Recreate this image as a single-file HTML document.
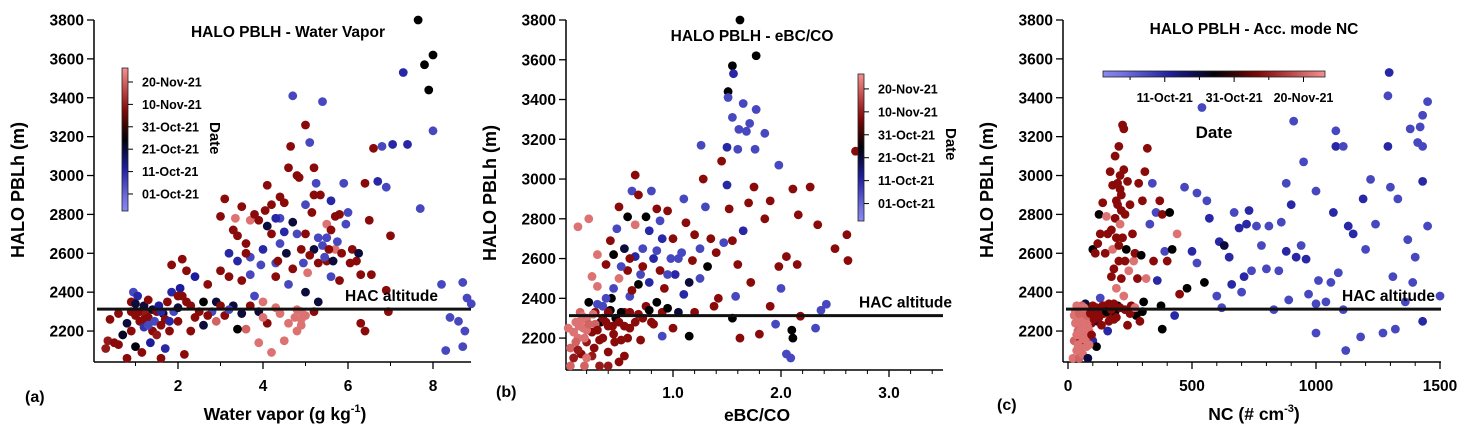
<!DOCTYPE html>
<html><head><meta charset="utf-8"><style>
html,body{margin:0;padding:0;background:#fff;}
svg{display:block;font-family:"Liberation Sans",Arial,sans-serif;font-weight:bold;}
</style></head><body>
<svg id="chart" width="1473" height="441" viewBox="0 0 1473 441" xmlns="http://www.w3.org/2000/svg">
<g id="gA"></g>
<g id="gB"></g>
<g id="gC"></g>
</svg>
<script>
// day offsets: 0 = 01-Oct-21
const yTicks=[2200,2400,2600,2800,3000,3200,3400,3600,3800];
const cbDays=[0,10,20,30,40,50];
const cbLabels=['01-Oct-21','11-Oct-21','21-Oct-21','31-Oct-21','10-Nov-21','20-Nov-21'];
const xTicksA=[2,4,6,8];
const xTicksB=[1.0,2.0,3.0];
const xTicksC=[0,500,1000,1500];
// [water vapor g/kg, PBLH m, day]
const ptsA=[[0.3,2110,40],[0.35,2150,40],[0.4,2260,38],[0.5,2140,38],[0.7,2180,22],[0.8,2060,38],[0.8,2240,20],[0.9,2200,38],[0.9,2350,38],[0.95,2400,5],[1.0,2120,24],[1.0,2280,38],[1.05,2380,10],[1.1,2300,38],[1.1,2250,38],[1.15,2090,38],[1.2,2330,20],[1.2,2220,8],[1.25,2290,40],[1.3,2270,38],[1.3,2360,38],[1.35,2140,12],[1.4,2310,20],[1.4,2200,38],[1.45,2250,5],[1.5,2300,38],[1.5,2180,40],[1.55,2330,12],[1.6,2060,38],[1.6,2230,38],[1.65,2290,20],[1.7,2260,38],[1.7,2110,10],[1.75,2350,38],[1.8,2200,38],[1.85,2400,10],[1.85,2540,38],[1.9,2300,5],[2.0,2320,20],[2.0,2250,38],[2.05,2420,12],[2.1,2570,38],[2.1,2380,38],[2.15,2080,38],[2.2,2350,38],[2.2,2510,38],[2.3,2330,38],[2.4,2480,12],[2.5,2300,38],[2.6,2230,20],[2.7,2440,38],[2.8,2300,5],[2.9,2350,20],[3.0,2510,38],[3.0,2790,38],[3.1,2880,38],[3.2,2600,10],[3.3,2330,20],[3.35,2780,52],[3.4,2690,38],[3.4,2560,10],[3.5,2840,38],[3.6,2210,50],[3.7,2580,5],[3.7,2770,52],[3.8,2800,38],[3.8,2380,5],[3.9,2140,52],[4.0,2620,10],[4.0,2350,52],[4.1,2740,20],[4.1,2950,38],[4.2,2850,38],[4.2,2090,52],[4.3,2550,5],[4.4,2890,38],[4.4,2650,5],[4.5,2710,10],[4.5,2150,52],[4.6,3040,38],[4.65,3150,38],[4.7,3410,5],[4.7,2760,20],[4.75,2270,52],[4.8,2310,52],[4.8,3000,38],[4.9,2260,52],[4.9,2620,38],[5.0,3260,38],[5.0,2850,5],[5.05,2500,52],[5.1,3170,5],[5.2,2620,20],[5.2,2900,38],[5.3,2550,38],[5.4,3380,5],[5.4,2640,5],[5.5,2750,52],[5.5,2560,38],[5.6,2870,10],[5.7,2620,52],[5.7,2790,38],[5.8,2800,38],[5.9,2960,5],[6.0,2810,5],[6.1,2620,38],[6.2,2560,38],[6.3,2240,38],[6.4,2960,38],[6.5,2770,38],[6.6,3140,38],[6.7,2970,10],[6.8,3150,5],[6.9,2940,5],[6.9,2410,38],[7.0,2690,38],[7.05,3160,10],[7.3,3530,10],[7.4,3160,10],[7.65,3800,25],[7.7,2830,5],[7.8,3570,25],[7.9,3440,25],[8.0,3620,25],[8.0,3230,5],[8.2,2440,5],[8.3,2100,5],[8.4,2270,5],[8.6,2250,5],[8.7,2120,5],[8.75,2200,5],[8.8,2370,5],[8.9,2340,5],[8.7,2450,5],[6.95,2300,38],[5.3,2350,20],[5.0,2400,20],[4.3,2480,38],[3.5,2460,38],[2.6,2350,25],[3.1,2280,38],[3.9,2300,20],[4.6,2240,52],[5.2,2300,38],[5.6,2480,5],[4.9,2300,52],[4.4,2780,5],[3.6,2650,38],[2.9,2250,50],[1.2,2260,38],[1.6,2300,10],[0.6,2290,38],[2.3,2200,38],[3.2,2480,38],[3.3,2720,38],[3.6,2600,38],[3.7,2490,5],[3.9,2770,38],[3.95,2540,5],[4.05,2820,38],[4.2,2700,38],[4.3,2780,10],[4.35,2560,38],[4.5,2860,38],[4.55,2600,20],[4.6,2440,5],[4.7,2520,38],[4.8,2700,5],[4.85,2990,38],[4.95,2550,5],[5.0,2700,38],[5.1,2590,38],[5.15,2810,38],[5.2,3040,38],[5.25,2960,5],[5.3,2680,5],[5.35,2900,38],[5.45,2580,5],[5.5,2680,5],[5.55,2620,38],[5.6,2720,38],[5.65,2560,20],[5.75,2660,5],[5.8,2460,38],[5.85,2600,38],[5.95,2750,5],[6.05,2550,38],[6.25,2600,20],[6.3,2490,38],[6.55,2490,38],[6.4,2200,38],[4.1,2240,38],[4.3,2320,52],[4.8,2200,52],[4.9,2230,52],[5.0,2280,52],[3.4,2210,25],[2.7,2280,38],[2.4,2270,38],[3.0,2330,38],[3.2,2310,5],[3.5,2290,20],[3.7,2330,38],[4.0,2270,52],[4.4,2290,52],[1.3,2230,5],[1.8,2250,10],[0.9,2300,38],[1.0,2340,20],[2.0,2380,38],[0.6,2130,38]];
// [eBC/CO, PBLH m, day]
const ptsB=[[0.03,2250,52],[0.05,2150,50],[0.05,2060,50],[0.08,2100,40],[0.1,2280,52],[0.12,2200,52],[0.12,2760,52],[0.14,2330,50],[0.15,2120,38],[0.17,2250,52],[0.18,2060,50],[0.2,2300,52],[0.2,2180,40],[0.22,2380,25],[0.22,2800,52],[0.25,2510,52],[0.25,2230,38],[0.27,2150,38],[0.28,2330,38],[0.3,2460,52],[0.3,2620,52],[0.32,2060,40],[0.33,2280,25],[0.35,2200,38],[0.35,2360,5],[0.38,2570,38],[0.4,2130,38],[0.4,2260,38],[0.42,2690,38],[0.43,2400,25],[0.45,2220,38],[0.45,2620,25],[0.47,2300,25],[0.48,2750,5],[0.5,2860,38],[0.5,2080,38],[0.5,2500,52],[0.52,2190,38],[0.55,2650,20],[0.55,2330,38],[0.58,2810,25],[0.58,2540,38],[0.6,2250,38],[0.6,2410,5],[0.62,2440,38],[0.62,2940,5],[0.65,2610,10],[0.65,2770,52],[0.65,3020,38],[0.68,2320,38],[0.68,2920,38],[0.7,2520,5],[0.7,2190,38],[0.72,2650,5],[0.75,2360,38],[0.75,2810,25],[0.78,2480,10],[0.8,2940,5],[0.8,2280,38],[0.82,2600,10],[0.85,2850,38],[0.85,2380,25],[0.88,2540,38],[0.9,2700,10],[0.9,2210,5],[0.92,2450,38],[0.95,2840,38],[0.98,2600,5],[1.0,2250,38],[1.0,2700,38],[1.02,2520,10],[1.05,2330,20],[1.08,2630,5],[1.1,2900,5],[1.12,2780,38],[1.15,2480,20],[1.15,2210,25],[1.18,2590,38],[1.2,2720,38],[1.2,2330,38],[1.25,2650,5],[1.28,3000,38],[1.3,2860,5],[1.32,2560,25],[1.35,2700,38],[1.38,2360,38],[1.4,2630,38],[1.42,2400,38],[1.45,3090,38],[1.47,2680,5],[1.5,2970,10],[1.52,2850,38],[1.55,2300,25],[1.55,2690,38],[1.58,2410,5],[1.6,2570,38],[1.62,2200,38],[1.65,2740,10],[1.7,2880,38],[1.72,2480,38],[1.75,2960,38],[1.8,2220,38],[1.85,2800,38],[1.9,2360,38],[1.9,2890,38],[1.95,2270,5],[1.98,2560,38],[2.0,2450,5],[2.05,2610,38],[2.1,2240,25],[1.62,3800,25],[1.77,3620,25],[1.55,3570,25],[1.56,3530,10],[1.51,3440,25],[1.51,3410,5],[1.65,3380,5],[1.77,3350,5],[1.55,3310,5],[1.71,3280,5],[1.61,3250,5],[1.68,3240,5],[1.85,3230,5],[1.26,3170,5],[1.5,3160,10],[1.6,3150,5],[1.76,3150,5],[2.69,3140,38],[1.98,3070,5],[2.27,2960,38],[2.11,2950,38],[2.16,2820,38],[2.34,2770,38],[2.61,2720,38],[2.5,2650,38],[2.62,2590,38],[2.15,2570,38],[2.42,2370,5],[2.37,2340,5],[2.32,2250,5],[2.09,2100,5],[2.05,2120,5],[2.11,2200,25],[2.18,2310,38],[0.15,2290,52],[0.2,2240,52],[0.28,2270,50],[0.35,2300,38],[0.42,2340,25],[0.5,2280,38],[0.58,2200,38],[0.1,2180,50],[0.25,2110,40],[0.08,2230,52],[0.13,2260,52],[0.16,2310,52],[0.18,2200,52],[0.22,2270,50],[0.26,2320,52],[0.3,2240,38],[0.32,2190,38],[0.38,2280,38],[0.4,2330,38],[0.44,2260,38],[0.46,2180,38],[0.52,2330,25],[0.55,2260,38],[0.6,2330,38],[0.65,2280,38],[0.72,2300,38],[0.78,2340,25],[0.82,2270,38],[0.9,2330,38],[0.95,2350,25],[0.45,2450,5],[0.52,2560,5],[0.6,2600,38],[0.68,2470,25],[0.72,2560,38],[0.78,2740,10],[0.85,2640,5],[0.88,2790,5],[0.95,2520,5],[1.05,2600,5],[1.1,2420,10],[1.25,2500,5],[0.38,2400,5],[0.3,2370,5],[0.12,2140,40],[0.2,2100,52],[0.4,2060,40],[0.55,2110,38]];
// [NC #/cm3, PBLH m, day]
const ptsC=[[20,2060,52],[25,2150,50],[30,2240,52],[35,2100,52],[40,2200,50],[40,2320,52],[45,2060,50],[50,2270,52],[50,2150,40],[55,2230,52],[60,2080,52],[60,2300,50],[65,2180,38],[70,2250,52],[70,2340,20],[75,2120,52],[80,2060,20],[80,2280,38],[85,2200,52],[90,2320,25],[95,2240,38],[100,2150,10],[100,2620,25],[110,2300,38],[110,2600,38],[115,2120,25],[120,2250,20],[120,2650,38],[125,2800,25],[130,2370,5],[130,2700,38],[140,2860,38],[145,2290,38],[150,2600,38],[155,2790,52],[160,2200,10],[160,2700,38],[165,2340,38],[170,3020,38],[175,2480,38],[180,2950,38],[180,2620,52],[185,2260,38],[190,3100,38],[190,2780,38],[195,2420,52],[200,2850,38],[200,2330,25],[205,3150,38],[205,2560,38],[210,2750,52],[210,3000,38],[215,2900,38],[215,2470,38],[220,3260,38],[220,2680,38],[225,3240,38],[225,2380,52],[230,2800,38],[235,2620,25],[240,2230,38],[240,2970,38],[245,2510,52],[250,2850,38],[255,2330,38],[260,2700,38],[265,2560,52],[270,2600,38],[275,2280,25],[280,2470,38],[285,2960,38],[290,2250,38],[295,2590,25],[300,2870,38],[305,2350,25],[310,3020,38],[315,2470,52],[320,3140,38],[330,2750,5],[340,2960,5],[345,2560,38],[355,2810,5],[360,2460,10],[370,2870,38],[375,2330,25],[380,2800,38],[380,2210,25],[390,2610,5],[400,2560,38],[410,2810,25],[420,2620,25],[430,2280,10],[440,2700,52],[450,2390,38],[470,2940,5],[480,2420,25],[500,2610,10],[520,2910,5],[520,2550,5],[540,3350,5],[550,2450,25],[560,2870,5],[570,2780,10],[600,2380,5],[610,2660,10],[620,2320,5],[630,2640,20],[650,2580,10],[660,2440,10],[670,2810,5],[690,2730,10],[700,2400,5],[710,2480,10],[720,2750,10],[730,2820,10],[740,2510,5],[760,2740,5],[780,2640,5],[800,2520,5],[810,2740,5],[830,2310,5],[850,2510,5],[860,2760,5],[880,2610,10],[880,2960,5],[890,2360,5],[900,2850,10],[910,3280,5],[920,2580,10],[940,2640,5],[950,3070,5],[960,2570,10],[970,2390,5],[1000,2340,5],[1000,2190,5],[1000,2920,5],[1010,2460,5],[1040,2350,5],[1060,2450,5],[1070,2810,10],[1080,3150,10],[1080,3230,5],[1090,2500,5],[1110,2310,5],[1110,3150,5],[1120,2100,5],[1130,2740,10],[1150,2700,10],[1180,2170,5],[1190,2880,10],[1200,2620,5],[1220,2980,5],[1240,2750,5],[1270,2190,5],[1290,3410,5],[1290,3150,10],[1300,2940,5],[1310,2480,5],[1320,2210,5],[1295,3530,10],[1330,2880,5],[1360,2350,5],[1370,2670,5],[1380,3240,5],[1390,2450,5],[1400,2580,5],[1410,3170,5],[1420,3250,5],[1430,2250,10],[1430,3150,5],[1430,2970,10],[1430,3310,5],[1450,2740,5],[1450,3380,5],[1500,2380,5],[30,2300,52],[45,2250,52],[55,2330,50],[65,2290,52],[75,2200,52],[90,2260,52],[100,2330,38],[130,2300,38],[150,2330,38],[170,2280,38],[190,2300,25],[210,2320,38],[250,2290,38],[35,2180,52],[60,2160,52],[25,2280,52],[35,2330,52],[40,2130,52],[45,2290,50],[50,2200,52],[55,2110,52],[60,2250,52],[65,2320,52],[70,2160,52],[75,2280,50],[80,2220,52],[85,2130,52],[90,2290,38],[95,2180,38],[105,2260,38],[115,2320,38],[125,2270,38],[135,2230,38],[140,2330,38],[155,2300,25],[165,2250,38],[175,2310,38],[185,2340,38],[195,2270,38],[230,2310,38],[270,2320,52],[300,2300,25],[175,2720,38],[195,2680,38],[200,2960,38],[215,2820,38],[225,3030,38],[205,2640,38],[185,2520,38],[230,2560,38],[195,2870,38],[210,2930,38]];
const hacAlt=2313;

const NS='http://www.w3.org/2000/svg';
const stops=[[-6,[138,138,245]],[12,[28,28,156]],[25,[0,0,0]],[38,[138,10,10]],[56,[245,144,144]]];
function col(d){
  if(d<=stops[0][0])return 'rgb('+stops[0][1]+')';
  for(let i=1;i<stops.length;i++){
    if(d<=stops[i][0]){
      const t=(d-stops[i-1][0])/(stops[i][0]-stops[i-1][0]);
      const a=stops[i-1][1],b=stops[i][1];
      return 'rgb('+a.map((v,k)=>Math.round(v+(b[k]-v)*t)).join(',')+')';
    }
  }
  return 'rgb('+stops[stops.length-1][1]+')';
}
function mk(parent,tag,attrs,txt){
  const e=document.createElementNS(NS,tag);
  for(const k in attrs)e.setAttribute(k,attrs[k]);
  if(txt!==undefined)e.textContent=txt;
  parent.appendChild(e);return e;
}
function panel(g,cfg){
  const X=v=>cfg.x0+v*cfg.xs, Y=v=>cfg.yTop+(3800-v)*cfg.ys;
  const ya=mk(g,'line',{x1:cfg.ax,y1:cfg.yTop,x2:cfg.ax,y2:cfg.bot,stroke:'#000','stroke-width':1.5});
  
  
  const xa=mk(g,'line',{x1:cfg.ax,y1:cfg.bot,x2:cfg.right,y2:cfg.bot,stroke:'#000','stroke-width':1.5});
  
  
  yTicks.forEach(v=>{
    mk(g,'line',{x1:cfg.ax-7,y1:Y(v),x2:cfg.ax,y2:Y(v),stroke:'#000','stroke-width':1.3});
    const t=mk(g,'text',{x:cfg.ax-10,y:Y(v)+5.5,'text-anchor':'end','font-size':15.5},String(v));
    
    
  });
  for(let v=cfg.minorStart;v<=cfg.xmax+1e-9;v+=cfg.minor){
    mk(g,'line',{x1:X(v),y1:cfg.bot,x2:X(v),y2:cfg.bot+4,stroke:'#000','stroke-width':1});
  }
  cfg.xTicks.forEach(v=>{
    mk(g,'line',{x1:X(v),y1:cfg.bot,x2:X(v),y2:cfg.bot+7,stroke:'#000','stroke-width':1.3});
    const t=mk(g,'text',{x:X(v),y:cfg.xlY,'text-anchor':'middle','font-size':15.5},cfg.fmt(v));
    
    
  });
  cfg.pts.forEach(p=>{
    const c=mk(g,'circle',{cx:X(p[0]),cy:Y(p[1]),r:4.4,fill:col(p[2])});
    
    
  });
  const hl=mk(g,'line',{x1:cfg.ax+3,y1:Y(hacAlt),x2:cfg.right,y2:Y(hacAlt),stroke:'#111','stroke-width':3});
  
  
  const ht=mk(g,'text',{x:cfg.hacX,y:Y(hacAlt)-8,'font-size':15.5},'HAC altitude');
  
  
}
panel(document.getElementById('gA'),{x0:93,xs:42.5,yTop:20,ys:0.1944,ax:94,bot:362,right:471,xmax:8.9,minor:1,minorStart:1,xTicks:xTicksA,fmt:v=>String(v),xlY:391,pts:ptsA,hacX:345});
panel(document.getElementById('gB'),{x0:565,xs:108,yTop:20,ys:0.1988,ax:566,bot:370,right:943,xmax:3.5,minor:0.2,minorStart:0.2,xTicks:xTicksB,fmt:v=>v.toFixed(1),xlY:398,pts:ptsB,hacX:859});
panel(document.getElementById('gC'),{x0:1068,xs:0.248,yTop:20,ys:0.1944,ax:1063,bot:362,right:1441,xmax:1500,minor:100,minorStart:0,xTicks:xTicksC,fmt:v=>String(v),xlY:391,pts:ptsC,hacX:1342});

function vbar(g,x,y0,y1,dTop,dBot,lx){
  const id='grad'+x;
  const defs=mk(g,'defs',{});
  const lg=mk(defs,'linearGradient',{id:id,x1:0,y1:0,x2:0,y2:1});
  for(let i=0;i<=10;i++){const d=dTop+(dBot-dTop)*i/10;mk(lg,'stop',{offset:i/10,'stop-color':col(d)});}
  const r=mk(g,'rect',{x:x,y:y0,width:6,height:y1-y0,fill:'url(#'+id+')',stroke:'#222','stroke-width':0.8});
  
  
  const Yd=d=>y0+(dTop-d)/(dTop-dBot)*(y1-y0);
  cbDays.forEach((d,i)=>{
    mk(g,'line',{x1:x+6,y1:Yd(d),x2:x+11,y2:Yd(d),stroke:'#000','stroke-width':1});
    const t=mk(g,'text',{x:lx,y:Yd(d)+4.5,'font-size':12.5},cbLabels[i]);
    
    
  });
}
const gA=document.getElementById('gA'),gB=document.getElementById('gB'),gC=document.getElementById('gC');
vbar(gA,122,68,211,56.25,-7.6,142);
vbar(gB,858,74,221,56.5,-7.6,878);
(function(){
  const x0=1103,x1=1325,y=71;
  const defs=mk(gC,'defs',{});
  const lg=mk(defs,'linearGradient',{id:'gradH',x1:0,y1:0,x2:1,y2:0});
  const dL=-7.8,dR=56.2;
  for(let i=0;i<=10;i++){const d=dL+(dR-dL)*i/10;mk(lg,'stop',{offset:i/10,'stop-color':col(d)});}
  const r=mk(gC,'rect',{x:x0,y:y,width:x1-x0,height:6,fill:'url(#gradH)',stroke:'#222','stroke-width':0.8});
  
  
  const Xd=d=>x0+(d-dL)/(dR-dL)*(x1-x0);
  cbDays.forEach((d,i)=>{
    const major=(i%2===1);
    mk(gC,'line',{x1:Xd(d),y1:y+6,x2:Xd(d),y2:y+(major?11:9),stroke:'#000','stroke-width':1});
    if(major){
      const t=mk(gC,'text',{x:Xd(d),y:y+31,'text-anchor':'middle','font-size':12.5},cbLabels[i]);
      
      
    }
  });
})();
</script>
<script>
const svg=document.getElementById('chart');
function T(x,y,s,size,name,extra){
  const e=document.createElementNS('http://www.w3.org/2000/svg','text');
  e.setAttribute('x',x);e.setAttribute('y',y);e.setAttribute('font-size',size);
  if(extra)for(const k in extra)e.setAttribute(k,extra[k]);
  e.textContent=s;
  
  
  svg.appendChild(e);return e;
}
T(288,37,'HALO PBLH - Water Vapor',15.5,'panel-a-title',{'text-anchor':'middle'});
T(752,41,'HALO PBLH - eBC/CO',15.5,'panel-b-title',{'text-anchor':'middle'});
T(1254,34,'HALO PBLH - Acc. mode NC',15.5,'panel-c-title',{'text-anchor':'middle'});
T(24,190,'HALO PBLh (m)',18,'y-axis-title',{'text-anchor':'middle',transform:'rotate(-90 24 190)'});
T(496,193,'HALO PBLh (m)',18,'y-axis-title',{'text-anchor':'middle',transform:'rotate(-90 496 193)'});
T(993,190,'HALO PBLh (m)',18,'y-axis-title',{'text-anchor':'middle',transform:'rotate(-90 993 190)'});
const xa=T(285,420,'Water vapor (g kg',17.5,'x-axis-title-a',{'text-anchor':'middle'});
const s1=document.createElementNS('http://www.w3.org/2000/svg','tspan');s1.setAttribute('font-size',11);s1.setAttribute('dy',-8);s1.textContent='-1';xa.appendChild(s1);
const s2=document.createElementNS('http://www.w3.org/2000/svg','tspan');s2.setAttribute('dy',8);s2.textContent=')';xa.appendChild(s2);
T(757,421,'eBC/CO',17.5,'x-axis-title-b',{'text-anchor':'middle'});
const xc=T(1254,420,'NC (# cm',17.5,'x-axis-title-c',{'text-anchor':'middle'});
const s3=document.createElementNS('http://www.w3.org/2000/svg','tspan');s3.setAttribute('font-size',11);s3.setAttribute('dy',-8);s3.textContent='-3';xc.appendChild(s3);
const s4=document.createElementNS('http://www.w3.org/2000/svg','tspan');s4.setAttribute('dy',8);s4.textContent=')';xc.appendChild(s4);
T(25,402,'(a)',16,'panel-a-label');
T(496,397,'(b)',16,'panel-b-label');
T(997,410,'(c)',16,'panel-c-label');
T(210,122,'Date',15,'colorbar-a-title',{transform:'rotate(90 210 122)'});
T(946,128,'Date',15,'colorbar-b-title',{transform:'rotate(90 946 128)'});
T(1214,138,'Date',17,'colorbar-c-title',{'text-anchor':'middle'});
</script>
</body></html>
